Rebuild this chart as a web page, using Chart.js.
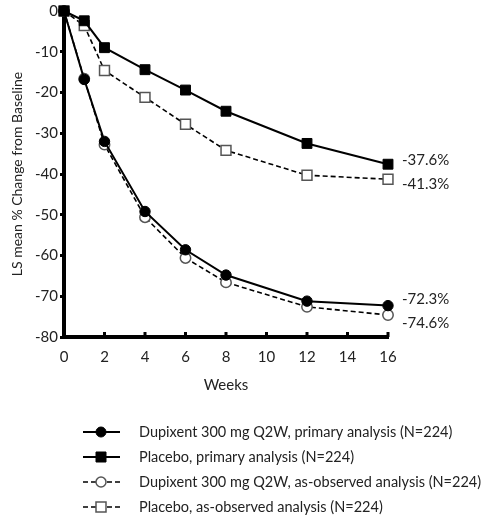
<!DOCTYPE html>
<html>
<head>
<meta charset="utf-8">
<script src="https://cdn.jsdelivr.net/npm/chart.js@4.4.1/dist/chart.umd.min.js"></script>
<style>
  html, body { margin: 0; padding: 0; background: #fff; }
  #wrap { width: 482px; height: 527px; position: relative; }
</style>
</head>
<body>
<div id="wrap"><canvas id="lsChart" width="482" height="527"></canvas></div>
<script>
const weeks = [0, 1, 2, 4, 6, 8, 12, 16];
const dupiPrimary = [0, -16.8, -32.0, -49.2, -58.6, -64.8, -71.2, -72.3];
const placeboPrimary = [0, -2.4, -9.0, -14.4, -19.4, -24.6, -32.5, -37.6];
const dupiObserved = [0, -16.6, -32.8, -50.6, -60.6, -66.6, -72.6, -74.6];
const placeboObserved = [0, -3.6, -14.6, -21.2, -27.8, -34.2, -40.3, -41.3];
const endLabels = ['-72.3%', '-37.6%', '-74.6%', '-41.3%'];
const seriesNames = [
  'Dupixent 300 mg Q2W, primary analysis (N=224)',
  'Placebo, primary analysis (N=224)',
  'Dupixent 300 mg Q2W, as-observed analysis (N=224)',
  'Placebo, as-observed analysis (N=224)'
];
const xTicks = [0, 2, 4, 6, 8, 10, 12, 14, 16];
const yTicks = [0, -10, -20, -30, -40, -50, -60, -70, -80];

const FONT = 'Lato, "Open Sans", sans-serif';
const labelOffsets = [-6, -4, 8, 5]; // nudge end labels apart

function pts(vals) {
  return weeks.map((w, i) => ({ x: w, y: vals[i] }));
}

// end-of-line labels, x-axis nubs, axis title and legend
const extras = {
  id: 'extras',
  afterDraw(chart) {
    const c = chart.ctx;
    const xs = chart.scales.x, ys = chart.scales.y;
    c.save();
    // nubs pointing up from the x axis
    c.fillStyle = '#000';
    xTicks.forEach(t => {
      if (t === 0) return;
      const px = xs.getPixelForValue(t);
      c.fillRect(px - 1.5, ys.bottom - 5, 3, 5);
    });
    // end labels
    c.font = '15px ' + FONT;
    c.fillStyle = '#222';
    c.textBaseline = 'middle';
    c.textAlign = 'left';
    chart.data.datasets.forEach((ds, i) => {
      const last = ds.data[ds.data.length - 1];
      c.fillText(endLabels[i], xs.getPixelForValue(last.x) + 14, ys.getPixelForValue(last.y) + labelOffsets[i]);
    });
    // x axis title
    c.textAlign = 'center';
    c.fillText('Weeks', (xs.left + xs.right) / 2, ys.bottom + 48);
    // legend
    c.font = '14.5px ' + FONT;
    c.textAlign = 'left';
    chart.data.datasets.forEach((ds, i) => {
      const y = 432 + i * 25;
      c.strokeStyle = '#000';
      c.lineWidth = ds.borderWidth;
      c.setLineDash(ds.borderDash || []);
      c.beginPath();
      c.moveTo(83, y);
      c.lineTo(120, y);
      c.stroke();
      c.setLineDash([]);
      c.fillStyle = ds.pointBackgroundColor;
      c.strokeStyle = ds.pointBorderColor;
      c.lineWidth = ds.pointBorderWidth;
      c.beginPath();
      if (ds.pointStyle === 'rect') c.rect(101 - 5, y - 5, 10, 10);
      else c.arc(101, y, 5, 0, Math.PI * 2);
      c.fill();
      c.stroke();
      c.fillStyle = '#222';
      c.fillText(seriesNames[i], 139, y);
    });
    c.restore();
  }
};

function series(i, vals, style, open, dashed) {
  return {
    label: seriesNames[i],
    data: pts(vals),
    borderColor: '#000',
    borderWidth: dashed ? 1.6 : 2,
    borderDash: dashed ? [5, 3] : undefined,
    pointStyle: style,
    pointRadius: style === 'rect' ? 7 : 5.2,
    pointBackgroundColor: open ? '#fff' : '#000',
    pointBorderColor: open ? '#555' : '#000',
    pointBorderWidth: open ? 1.5 : 1,
    tension: 0,
    order: dashed ? 2 : 1
  };
}

const ctx = document.getElementById('lsChart').getContext('2d');
new Chart(ctx, {
  type: 'line',
  data: {
    datasets: [
      series(0, dupiPrimary, 'circle', false, false),
      series(1, placeboPrimary, 'rect', false, false),
      series(2, dupiObserved, 'circle', true, true),
      series(3, placeboObserved, 'rect', true, true)
    ]
  },
  options: {
    responsive: false,
    animation: false,
    clip: false,
    layout: { padding: { top: 6, right: 94, left: 9, bottom: 0 } },
    plugins: { legend: { display: false }, tooltip: { enabled: false } },
    scales: {
      x: {
        type: 'linear', min: 0, max: 16,
        afterBuildTicks(s) { s.ticks = xTicks.map(v => ({ value: v })); },
        afterFit(s) { s.height = 190; },
        grid: { display: false },
        border: { color: '#000', width: 4 },
        ticks: { color: '#222', font: { family: FONT, size: 15 }, padding: 3, maxRotation: 0 }
      },
      y: {
        min: -80, max: 0,
        afterBuildTicks(s) { s.ticks = yTicks.map(v => ({ value: v })); },
        afterFit(s) { s.width = 55; },
        grid: { drawOnChartArea: false, drawTicks: true, tickLength: 4, color: '#000', lineWidth: 3 },
        border: { color: '#000', width: 4 },
        ticks: { color: '#222', font: { family: FONT, size: 15 }, padding: 2 },
        title: { display: true, text: 'LS mean % Change from Baseline', color: '#222', font: { family: FONT, size: 14 }, padding: { top: 0, bottom: 2 } }
      }
    }
  },
  plugins: [extras]
});
</script>
</body>
</html>
